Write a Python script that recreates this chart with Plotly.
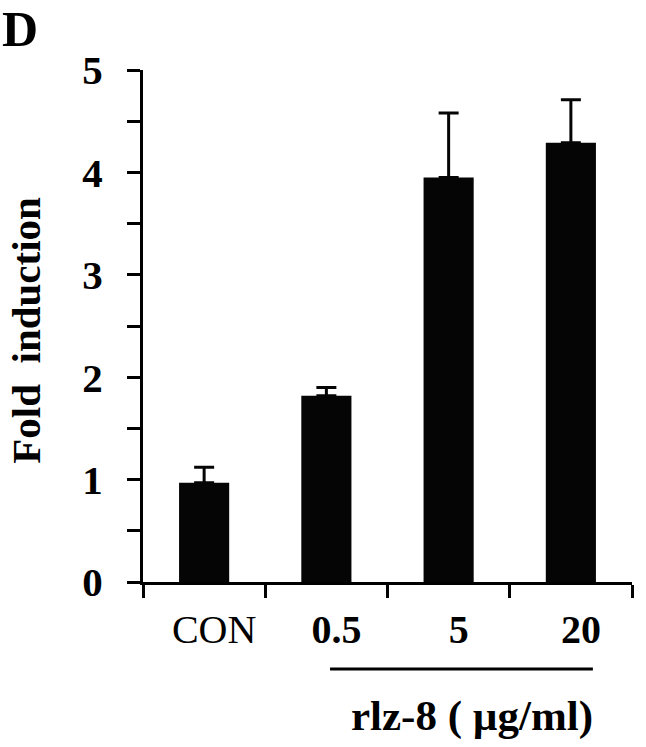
import plotly.graph_objects as go

categories = ["CON", "0.5", "5", "20"]
tick_text = ["CON", "<b>0.5</b>", "<b>5</b>", "<b>20</b>"]
fold_values = [0.97, 1.82, 3.95, 4.29]
fold_errors = [0.15, 0.08, 0.63, 0.42]
y_tick_vals = [0, 1, 2, 3, 4, 5]

FONT = "Liberation Serif"

fig = go.Figure()
fig.add_trace(go.Bar(
    x=categories,
    y=fold_values,
    width=0.41,
    marker=dict(color="#050505", line=dict(width=0)),
    error_y=dict(type="data", symmetric=False, array=fold_errors,
                 arrayminus=[0] * len(fold_errors),
                 color="#050505", thickness=3, width=10),
    showlegend=False,
))

fig.update_layout(
    width=646, height=747,
    margin=dict(l=143, r=14, t=70, b=165),
    plot_bgcolor="white", paper_bgcolor="white",
    font=dict(family=FONT, color="black"),
    bargap=0.59,
)

fig.update_xaxes(
    type="category",
    range=[-0.5, 3.5],
    tickmode="array", tickvals=categories, ticktext=tick_text,
    tickson="boundaries",
    ticks="outside", ticklen=13, tickwidth=3, tickcolor="black",
    showline=True, linecolor="black", linewidth=3,
    showgrid=False, zeroline=False,
    tickfont=dict(family=FONT, size=40, color="black"),
    ticklabelstandoff=10,
    ticklabelshift=10,
)
fig.update_yaxes(
    range=[0, 5],
    tickmode="array", tickvals=y_tick_vals,
    ticktext=[f"<b>{v}</b>" for v in y_tick_vals],
    ticks="outside", ticklen=13, tickwidth=3, tickcolor="black",
    minor=dict(dtick=0.5, ticks="outside", ticklen=13, tickwidth=3, tickcolor="black", showgrid=False),
    showline=True, linecolor="black", linewidth=3,
    showgrid=False, zeroline=False,
    tickfont=dict(family=FONT, size=41, color="black"),
    ticklabelstandoff=16,
)

# group underline for the rlz-8 doses
fig.add_shape(type="line", xref="x", yref="paper",
              x0=1.03, x1=3.18, y0=-0.17, y1=-0.17,
              line=dict(color="black", width=3))

fig.add_annotation(text="<b>rlz-8 ( µg/ml)</b>", xref="x", yref="paper",
                   x=2.19, y=-0.262, showarrow=False,
                   font=dict(family=FONT, size=43, color="black"),
                   xanchor="center", yanchor="middle")

fig.add_annotation(text="<b>Fold  induction</b>", xref="paper", yref="paper",
                   x=-0.24, y=0.492, textangle=-90, showarrow=False,
                   font=dict(family=FONT, size=41, color="black"),
                   xanchor="center", yanchor="middle")

fig.add_annotation(text="<b>D</b>", xref="paper", yref="paper",
                   x=-0.292, y=1.08, showarrow=False,
                   font=dict(family=FONT, size=50, color="black"),
                   xanchor="left", yanchor="middle")

fig.write_html("out.html", post_script="document.body.style.margin='0';",
               config={"displayModeBar": False})
